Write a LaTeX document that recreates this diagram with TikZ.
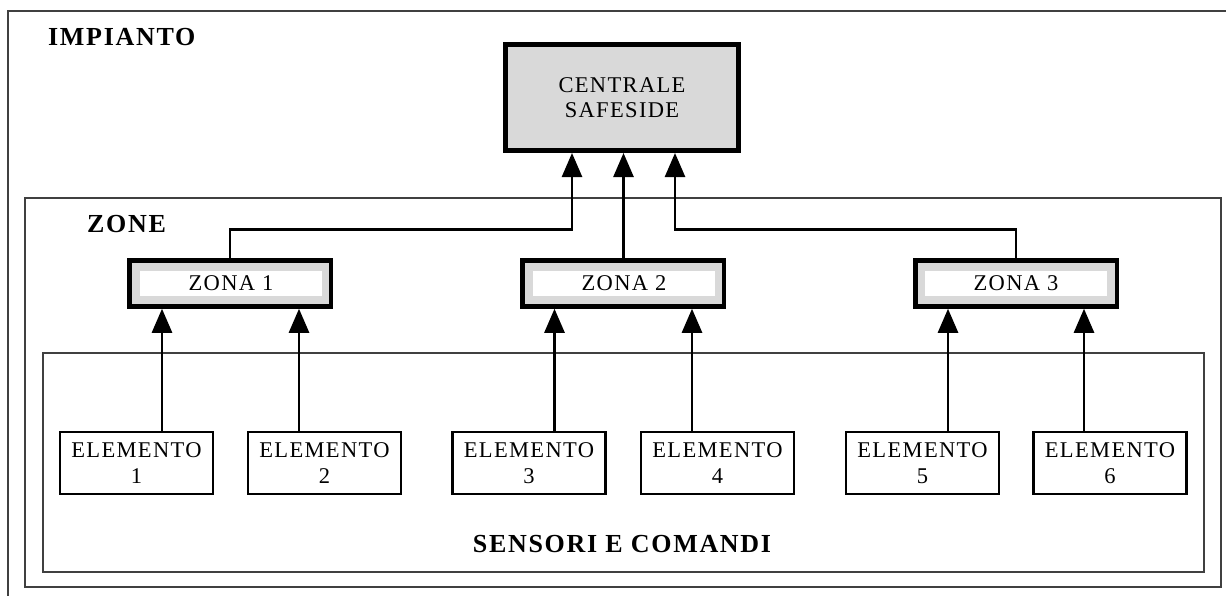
\documentclass[tikz,border=0pt]{standalone}
\usepackage{fontspec}
\usetikzlibrary{arrows.meta}
\newfontfamily\regf[LetterSpace=6]{Liberation Serif}
\newfontfamily\bldf[LetterSpace=6.5]{Liberation Serif}
\newcommand{\regtxt}{\regf\fontsize{22.5}{25.5}\selectfont}
\newcommand{\bldtxt}{\bldf\bfseries\fontsize{26}{30}\selectfont}
\definecolor{boxgray}{HTML}{D9D9D9}
\definecolor{framegray}{HTML}{404040}
\tikzset{
  frame/.style={draw=framegray, line width=1.5pt},
  cbox/.style={draw, line width=5pt, fill=boxgray, minimum width=233pt, minimum height=106pt, inner sep=0pt, align=center, font=\regtxt},
  zbox/.style={draw, line width=4.5pt, fill=boxgray, minimum width=201.5pt, minimum height=46pt, inner sep=0pt},
  zlab/.style={fill=white, minimum width=182pt, minimum height=25pt, inner sep=0pt, font=\regtxt},
  ebox/.style={draw, line width=2.2pt, fill=white, minimum width=153pt, minimum height=62pt, inner sep=0pt, align=center, font=\regtxt},
  conn/.style={line width=2.6pt},
  arr/.style={conn, -{Triangle[width=20pt,length=24pt]}},
  ttl/.style={font=\bldtxt, inner sep=0pt}
}
\begin{document}
\begin{tikzpicture}[x=1pt, y=-1pt]
\useasboundingbox (0,0) rectangle (1226,595);
\fill[white] (0,0) rectangle (1226,595);
% frames
\draw[frame] (8,11) rectangle (1260,630);
\draw[frame] (25,198) rectangle (1221,587);
\draw[frame] (43,353) rectangle (1204,572);
% titles
\node[ttl, anchor=base west] (timp) at (48,45) {IMPIANTO};
\node[ttl, anchor=base west] (tzone) at (87,232) {ZONE};
\node[ttl, anchor=base] (tsens) at (622,552) {SENSORI E COMANDI};
% central unit
\node[cbox] (c) at (622,97.5) {CENTRALE\\SAFESIDE};
% zones
\node[zbox] (z1) at (230,283.5) {};
\node[zlab] (z1t) at (231,283.5) {ZONA 1};
\node[zbox] (z2) at (623,283.5) {};
\node[zlab] (z2t) at (624,283.5) {ZONA 2};
\node[zbox] (z3) at (1016,283.5) {};
\node[zlab] (z3t) at (1016,283.5) {ZONA 3};
% elements
\node[ebox] (e1) at (136.5,463) {ELEMENTO\\1};
\node[ebox] (e2) at (324.5,463) {ELEMENTO\\2};
\node[ebox] (e3) at (529,463) {ELEMENTO\\3};
\node[ebox] (e4) at (717.5,463) {ELEMENTO\\4};
\node[ebox] (e5) at (922.5,463) {ELEMENTO\\5};
\node[ebox] (e6) at (1110,463) {ELEMENTO\\6};
% zone -> central
\coordinate (j1) at (572,229.5);
\coordinate (j3) at (675,229.5);
\draw[arr] (z1.north) |- (j1) -- (j1 |- c.south);
\draw[arr] ([xshift=0.5pt]z2.north) -- ([xshift=0.5pt]z2.north |- c.south);
\draw[arr] (z3.north) |- (j3) -- (j3 |- c.south);
% elements -> zones
\draw[arr] ([xshift=25.5pt]e1.north) -- ([xshift=25.5pt]e1.north |- z1.south);
\draw[arr] ([xshift=-25.5pt]e2.north) -- ([xshift=-25.5pt]e2.north |- z1.south);
\draw[arr] ([xshift=25.5pt]e3.north) -- ([xshift=25.5pt]e3.north |- z2.south);
\draw[arr] ([xshift=-25.5pt]e4.north) -- ([xshift=-25.5pt]e4.north |- z2.south);
\draw[arr] ([xshift=25.5pt]e5.north) -- ([xshift=25.5pt]e5.north |- z3.south);
\draw[arr] ([xshift=-26pt]e6.north) -- ([xshift=-26pt]e6.north |- z3.south);
\end{tikzpicture}
\end{document}
